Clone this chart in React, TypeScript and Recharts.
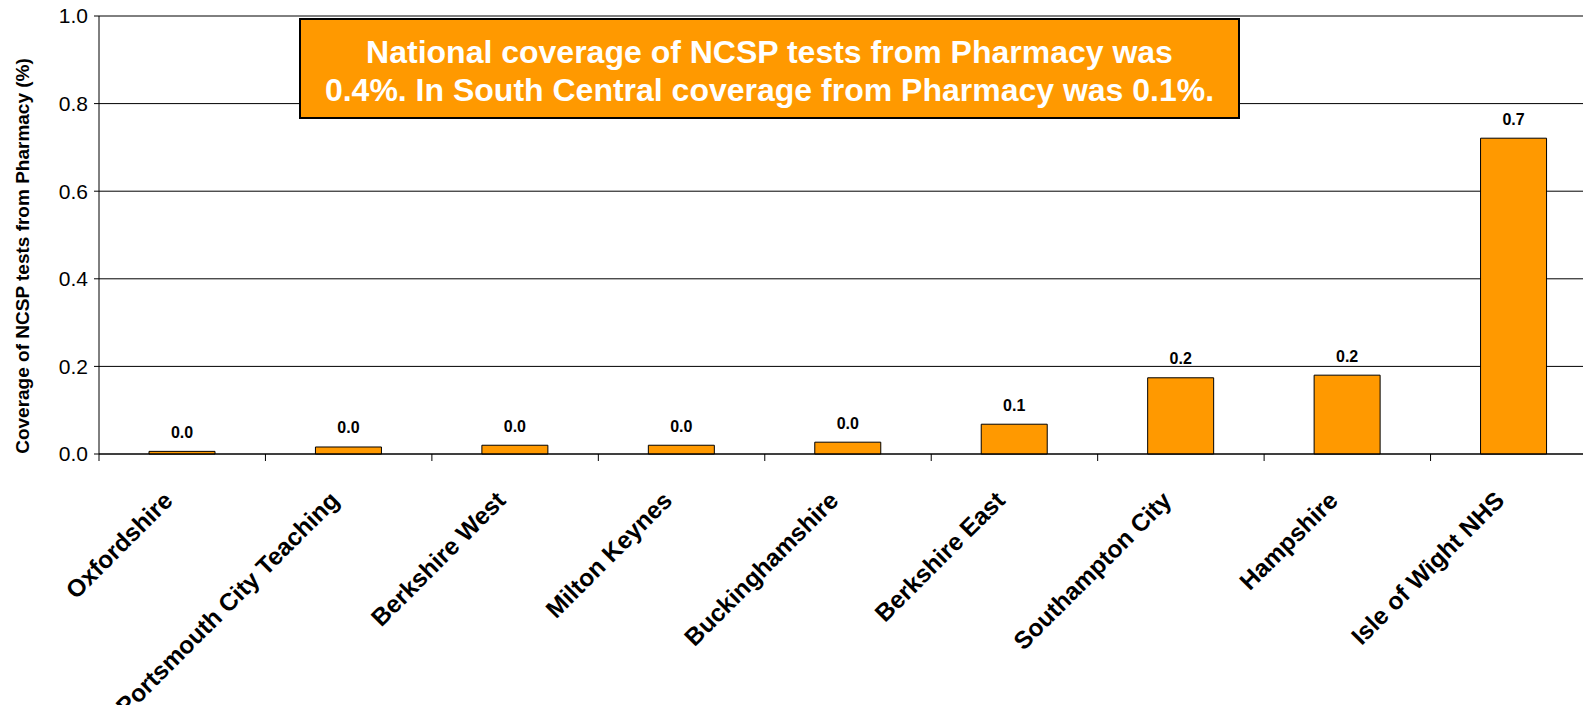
import React from "react";
import { BarChart, Bar, XAxis, YAxis, CartesianGrid, LabelList } from "recharts";

const categories = [
  "Oxfordshire",
  "Portsmouth City Teaching",
  "Berkshire West",
  "Milton Keynes",
  "Buckinghamshire",
  "Berkshire East",
  "Southampton City",
  "Hampshire",
  "Isle of Wight NHS",
];
const coverage = [0.006, 0.016, 0.02, 0.02, 0.027, 0.068, 0.174, 0.18, 0.721];
const yTicks = [0, 0.2, 0.4, 0.6, 0.8, 1.0];
const noteLines = [
  "National coverage of NCSP tests from Pharmacy was",
  "0.4%. In South Central coverage from Pharmacy was 0.1%.",
];

const data = categories.map((name, i) => ({ name, value: coverage[i] }));

const FONT = '"Liberation Sans", Arial, sans-serif';
const CHART_W = 1597;
const CHART_H = 705;
const TOP = 16;
const Y_AXIS_W = 99;
const PLOT_BOTTOM = 454;
const STEP = (CHART_W - Y_AXIS_W) / categories.length;

function CategoryTick(props: any) {
  const { x, payload } = props;
  const left = x - STEP / 2;
  return (
    <g>
      <line x1={left} x2={left} y1={PLOT_BOTTOM} y2={PLOT_BOTTOM + 7} stroke="#000" />
      <text
        transform={`translate(${x - 8},${PLOT_BOTTOM + 48}) rotate(-45)`}
        textAnchor="end"
        fontSize={24.5}
        fontWeight="bold"
        fontFamily={FONT}
        fill="#000"
      >
        {payload.value}
      </text>
    </g>
  );
}

function ValueLabel(props: any) {
  const { x, y, width, value } = props;
  return (
    <text
      x={x + width / 2}
      y={y - 19}
      textAnchor="middle"
      dominantBaseline="central"
      fontSize={16}
      fontWeight="bold"
      fontFamily={FONT}
      fill="#000"
    >
      {Number(value).toFixed(1)}
    </text>
  );
}

export default function App() {
  return (
    <div
      style={{
        position: "absolute",
        left: 0,
        top: 0,
        width: 1583,
        height: 705,
        overflow: "hidden",
        background: "#fff",
      }}
    >
      <BarChart
        width={CHART_W}
        height={CHART_H}
        data={data}
        margin={{ top: TOP, right: 0, bottom: 0, left: 0 }}
      >
        <CartesianGrid vertical={false} stroke="#000" strokeWidth={1} />
        <XAxis
          dataKey="name"
          interval={0}
          height={CHART_H - PLOT_BOTTOM}
          tickLine={false}
          axisLine={{ stroke: "#000" }}
          tick={<CategoryTick />}
        />
        <YAxis
          width={Y_AXIS_W}
          domain={[0, 1]}
          ticks={yTicks}
          interval={0}
          tickFormatter={(v: number) => v.toFixed(1)}
          tickSize={5}
          tickMargin={6}
          tickLine={{ stroke: "#000" }}
          axisLine={{ stroke: "#000" }}
          tick={{ fontSize: 21, fill: "#000", fontFamily: FONT }}
          label={{
            content: () => (
              <text
                transform="translate(22,256) rotate(-90)"
                textAnchor="middle"
                dominantBaseline="central"
                fontSize={19}
                fontWeight="bold"
                fontFamily={FONT}
                fill="#000"
              >
                Coverage of NCSP tests from Pharmacy (%)
              </text>
            ),
          }}
        />
        <Bar
          dataKey="value"
          fill="#FF9900"
          stroke="#000"
          strokeWidth={1}
          barSize={66}
          isAnimationActive={false}
        >
          <LabelList dataKey="value" content={<ValueLabel />} />
        </Bar>
      </BarChart>
      <div
        style={{
          position: "absolute",
          left: 299,
          top: 18,
          width: 941,
          height: 101,
          background: "#FF9900",
          border: "2px solid #000",
          color: "#fff",
          fontFamily: FONT,
          fontWeight: "bold",
          fontSize: 32,
          lineHeight: "38px",
          textAlign: "center",
          display: "flex",
          flexDirection: "column",
          justifyContent: "center",
          paddingTop: 5,
          boxSizing: "border-box",
        }}
      >
        {noteLines.map((line) => (
          <div key={line}>{line}</div>
        ))}
      </div>
    </div>
  );
}
